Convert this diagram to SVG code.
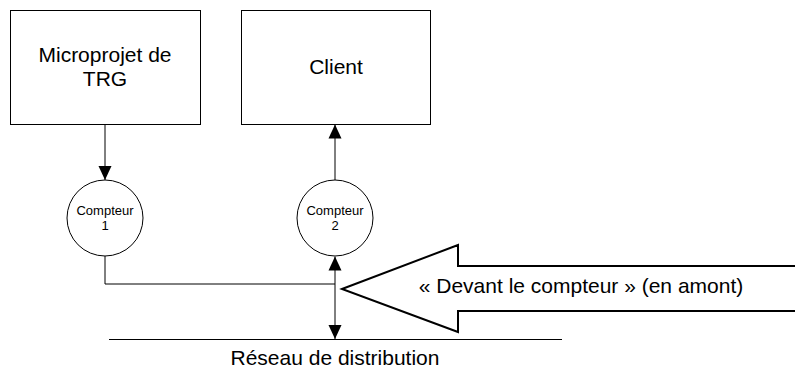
<svg xmlns="http://www.w3.org/2000/svg" width="795" height="375" viewBox="0 0 795 375">
<style>
.box{fill:#fff;stroke:#000;stroke-width:1}
.meter{fill:#fff;stroke:#000;stroke-width:1}
.lbl{font-family:"Liberation Sans",Arial,sans-serif;font-size:21px;fill:#000;text-anchor:middle}
.sm{font-family:"Liberation Sans",Arial,sans-serif;font-size:13px;fill:#000;text-anchor:middle}
.ln{fill:none;stroke:#000;stroke-width:1}
.big{fill:#fff;stroke:#000;stroke-width:2;stroke-linejoin:miter}
</style>
<defs>
<marker id="ah" markerUnits="userSpaceOnUse" markerWidth="14" markerHeight="14" refX="14" refY="7" orient="auto-start-reverse" viewBox="0 0 14 14">
<path d="M0,0.5 L14,7 L0,13.5 z" fill="#000"/>
</marker>
</defs>
<rect width="795" height="375" fill="#fff"/>
<g id="connectors">
<line class="ln" x1="105" y1="124" x2="105" y2="180" marker-end="url(#ah)"/>
<line class="ln" x1="335" y1="180" x2="335" y2="124.5" marker-end="url(#ah)"/>
<polyline class="ln" points="105,256 105,284 335,284"/>
<line class="ln" x1="335" y1="256.5" x2="335" y2="339" marker-start="url(#ah)" marker-end="url(#ah)"/>
</g>
<g id="microprojet">
<rect class="box" x="10.5" y="10.5" width="190" height="114"/>
<text class="lbl" x="105" y="62">Microprojet de</text>
<text class="lbl" x="105" y="86">TRG</text>
</g>
<g id="client">
<rect class="box" x="241.5" y="10.5" width="189" height="114"/>
<text class="lbl" x="336" y="74">Client</text>
</g>
<g id="compteur1">
<circle class="meter" cx="105" cy="218" r="38"/>
<text class="sm" x="105" y="215">Compteur</text>
<text class="sm" x="105" y="230">1</text>
</g>
<g id="compteur2">
<circle class="meter" cx="335" cy="218" r="38"/>
<text class="sm" x="335" y="215">Compteur</text>
<text class="sm" x="335" y="230">2</text>
</g>
<g id="reseau">
<line class="ln" x1="109" y1="339.5" x2="562" y2="339.5"/>
<text class="lbl" x="335" y="365">Réseau de distribution</text>
</g>
<g id="devant">
<polygon class="big" points="342,289 458,245 458,266 800,266 800,311 458,311 458,332"/>
<text class="lbl" x="581" y="293">« Devant le compteur » (en amont)</text>
</g>
</svg>
